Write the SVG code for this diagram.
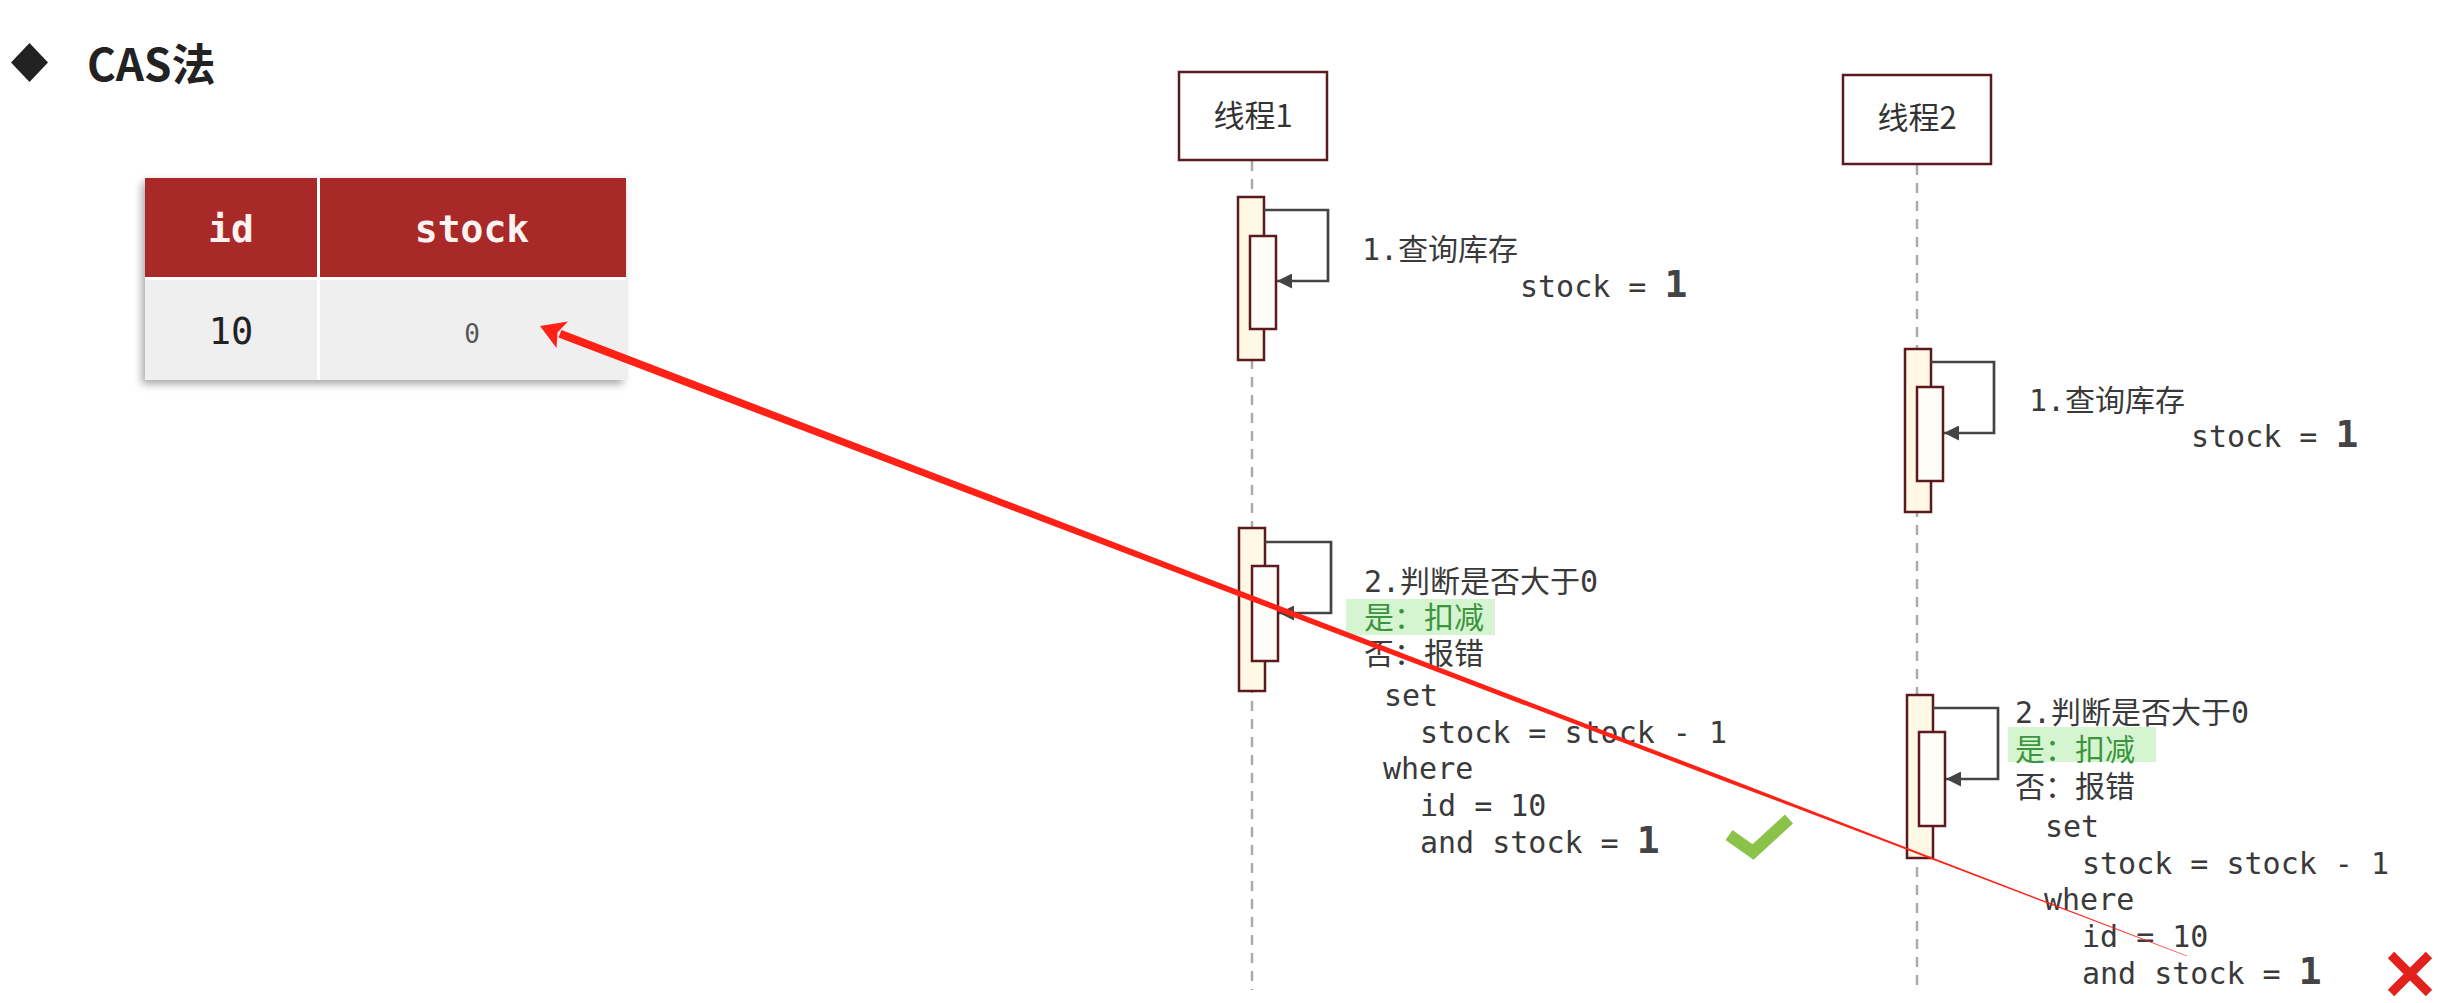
<svg xmlns="http://www.w3.org/2000/svg" width="2453" height="1003" viewBox="0 0 2453 1003">
  <style>
    .lbl { font-family: "DejaVu Sans Mono", "Noto Sans CJK SC", monospace; font-size: 30px; fill: #3a3a3a; }
    .big1 { font-family: "DejaVu Sans Mono", monospace; font-weight: bold; font-size: 38px; fill: #444; }
    .green { fill: #3d9440; }
    .hl { fill: #d5f5d0; }
    .head { fill: #fff; stroke: #5c1a1e; stroke-width: 2.5; }
    .hname { font-family: "Noto Sans CJK SC", "Liberation Sans", sans-serif; font-size: 31px; fill: #333; text-anchor: middle; }
    .act { fill: #fff8e4; stroke: #5c1a1e; stroke-width: 2.5; }
    .inner { fill: #fffdf8; stroke: #5c1a1e; stroke-width: 2.5; }
    .loop { fill: none; stroke: #444; stroke-width: 2.7; marker-end: url(#tri); }
    .life { stroke: #ababab; stroke-width: 2.5; stroke-dasharray: 10 8; fill: none; }
    .th { fill: #a92929; }
    .td { fill: #efefef; }
    .thtxt { font-family: "DejaVu Sans Mono", monospace; font-weight: bold; font-size: 38px; fill: #fdf3f0; text-anchor: middle; }
  </style>
  <defs>
    <marker id="tri" viewBox="0 0 15 15" refX="15" refY="7.5" markerWidth="15" markerHeight="15" markerUnits="userSpaceOnUse" orient="auto">
      <path d="M0,0 L15,7.5 L0,15 z" fill="#444"/>
    </marker>
    <filter id="shadow" x="-10%" y="-10%" width="120%" height="130%">
      <feDropShadow dx="-3" dy="4" stdDeviation="4" flood-color="#000" flood-opacity="0.35"/>
    </filter>
  </defs>

  <rect width="2453" height="1003" fill="#fff"/>

  <g id="title">
    <polygon points="11,62.5 29.5,43 48,62.5 29.5,82" fill="#222"/>
    <text x="87" y="81" font-family="Noto Sans CJK SC, Liberation Sans, sans-serif" font-weight="bold" font-size="44" fill="#222">CAS法</text>
  </g>

  <g id="table">
    <rect x="145" y="178" width="481" height="202" fill="#fff" filter="url(#shadow)"/>
    <rect class="th" x="145" y="178" width="172" height="99"/>
    <rect class="th" x="320" y="178" width="306" height="99"/>
    <rect class="td" x="145" y="280" width="172" height="100"/>
    <rect class="td" x="320" y="280" width="306" height="100"/>
    <text class="thtxt" x="231" y="242">id</text>
    <text class="thtxt" x="472" y="242">stock</text>
    <text x="231" y="344" font-family="DejaVu Sans Mono, monospace" font-size="37" fill="#222" text-anchor="middle">10</text>
    <text x="472" y="343" font-family="DejaVu Sans Mono, monospace" font-size="26" fill="#555" text-anchor="middle">0</text>
  </g>

  <g id="connectors">
    <line class="life" x1="1252" y1="161" x2="1252" y2="990"/>
    <line class="life" x1="1917" y1="165" x2="1917" y2="990"/>
  </g>

  <g id="thread1">
    <rect class="head" x="1179" y="72" width="148" height="88"/>
    <text class="hname" x="1253" y="127">线程1</text>
  </g>
  <g id="thread2">
    <rect class="head" x="1843" y="75" width="148" height="89"/>
    <text class="hname" x="1917" y="129">线程2</text>
  </g>

  <g id="t1-query">
    <rect class="act" x="1238" y="197" width="26" height="163"/>
    <rect class="inner" x="1250" y="236" width="26" height="93"/>
    <text class="lbl" x="1362" y="260">1.查询库存</text>
    <text class="lbl" x="1520" y="297">stock = <tspan class="big1">1</tspan></text>
  </g>

  <g id="t2-query">
    <rect class="act" x="1905" y="349" width="26" height="163"/>
    <rect class="inner" x="1917" y="387" width="26" height="94"/>
    <text class="lbl" x="2029" y="411">1.查询库存</text>
    <text class="lbl" x="2191" y="447">stock = <tspan class="big1">1</tspan></text>
  </g>

  <g id="t1-check">
    <rect class="act" x="1239" y="528" width="26" height="163"/>
    <rect class="inner" x="1252" y="566" width="26" height="95"/>
    <text class="lbl" x="1364" y="592">2.判断是否大于0</text>
    <rect class="hl" x="1346" y="599" width="149" height="36"/>
    <text class="lbl green" x="1364" y="628">是：扣减</text>
    <text class="lbl" x="1364" y="664">否：报错</text>
    <text class="lbl" x="1384" y="706">set</text>
    <text class="lbl" x="1420" y="743">stock = stock - 1</text>
    <text class="lbl" x="1383" y="779">where</text>
    <text class="lbl" x="1420" y="816">id = 10</text>
    <text class="lbl" x="1420" y="853">and stock = <tspan class="big1">1</tspan></text>
  </g>

  <g id="t2-check">
    <rect class="act" x="1907" y="695" width="26" height="163"/>
    <rect class="inner" x="1919" y="732" width="26" height="94"/>
    <text class="lbl" x="2015" y="723">2.判断是否大于0</text>
    <rect class="hl" x="2008" y="727" width="148" height="35"/>
    <text class="lbl green" x="2015" y="760">是：扣减</text>
    <text class="lbl" x="2015" y="797">否：报错</text>
    <text class="lbl" x="2045" y="837">set</text>
    <text class="lbl" x="2082" y="874">stock = stock - 1</text>
    <text class="lbl" x="2044" y="910">where</text>
    <text class="lbl" x="2082" y="947">id = 10</text>
    <text class="lbl" x="2082" y="984">and stock = <tspan class="big1">1</tspan></text>
  </g>

  <g id="self-calls">
    <polyline class="loop" points="1264,210 1328,210 1328,281 1277,281"/>
    <polyline class="loop" points="1265,542 1331,542 1331,613 1279,613"/>
    <polyline class="loop" points="1931,362 1994,362 1994,433 1944,433"/>
    <polyline class="loop" points="1933,708 1998,708 1998,779 1946,779"/>
  </g>

  <g id="red-arrow" fill="#ff2116">
    <polygon points="561.5,329.9 1021.2,506.4 1200.9,575.7 1720.7,775.5 1880.4,837.6 2187.1,955.7 2186.9,956.3 1879.6,839.5 1719.3,779.2 1199.1,581.2 1018.8,512.8 558.5,337.4"/>
    <polygon points="540,326 568,321.5 557.5,332.5 556.5,348"/>
  </g>

  <g id="marks">
    <polyline points="1729,835 1753,852 1789,819" fill="none" stroke="#8bc34a" stroke-width="12"/>
    <path d="M2391,955 L2429,993 M2429,955 L2391,993" stroke="#e2201c" stroke-width="9" fill="none"/>
  </g>
</svg>
